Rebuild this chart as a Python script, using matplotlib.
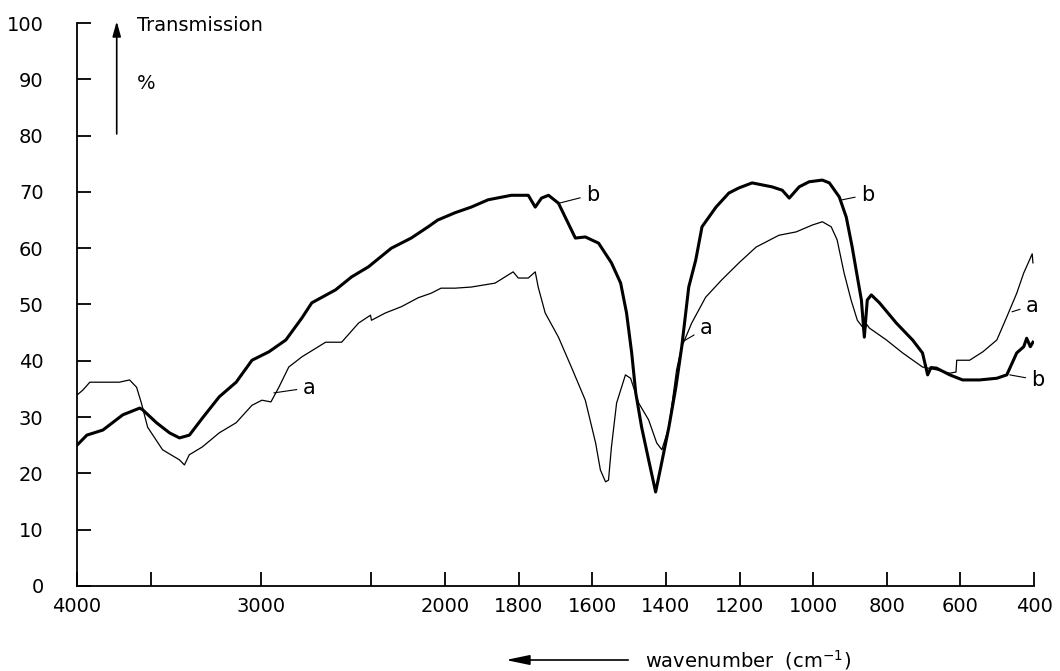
import numpy as np
import matplotlib
matplotlib.use('Agg')
import matplotlib.pyplot as plt

# spectrum a (thin line)
wn_a = [4000,3968,3930,3860,3770,3714,3676,3650,3616,3535,3443,3416,3390,3319,3227,3135,3049,2995,2946,2903,
        2849,2778,2649,2562,2470,2405,2400,2324,2238,2146,2076,2022,1973,1929,1864,1815,1801,1774,1755,1747,
        1728,1692,1657,1619,1591,1578,1564,1556,1548,1534,1510,1496,1474,1447,1425,1411,1392,1371,1357,1330,
        1292,1248,1200,1155,1093,1046,1003,975,951,935,916,897,880,866,861,855,847,801,757,703,665,629,612,610,
        575,539,501,474,447,428,415,409,405,403]
tr_a = [33.9,34.8,36.2,36.2,36.2,36.6,35.3,32.5,28.2,24.2,22.4,21.5,23.3,24.7,27.2,29.0,32.1,33.0,32.7,35.3,
        38.9,40.7,43.3,43.3,46.7,48.1,47.2,48.5,49.6,51.2,52.0,52.9,52.9,53.1,53.8,55.8,54.7,54.7,55.8,53.1,
        48.5,44.2,38.9,33.0,25.4,20.6,18.5,18.8,24.7,32.5,37.5,36.9,32.5,29.5,25.4,24.2,28.2,38.4,42.5,46.7,
        51.3,54.4,57.5,60.2,62.3,62.9,64.1,64.7,63.8,61.5,55.6,50.8,47.2,46.0,45.0,46.5,45.8,43.7,41.4,38.9,38.4,37.8,38.0,40.1,
        40.1,41.6,43.7,47.8,52.0,55.6,57.5,58.4,59.0,57.4]

# spectrum b (thick line)
wn_b = [4000,3946,3859,3751,3659,3643,3568,3497,3443,3389,3319,3227,3135,3049,2957,2865,2778,2724,2595,2508,
        2416,2292,2184,2092,2040,1973,1929,1883,1820,1774,1755,1738,1719,1692,1646,1619,1583,1548,1523,1507,
        1493,1482,1466,1447,1428,1414,1392,1373,1357,1338,1319,1302,1264,1229,1202,1166,1112,1084,1065,1038,
        1011,975,956,929,910,894,880,869,861,853,842,820,774,730,703,689,680,665,629,594,548,501,474,447,428,
        420,410,403]
tr_b = [25.0,26.8,27.7,30.4,31.6,31.3,29.0,27.2,26.3,26.8,29.8,33.6,36.2,40.1,41.6,43.7,47.6,50.3,52.6,54.9,
        56.7,60.0,61.8,63.8,65.0,66.3,67.3,68.6,69.4,69.4,67.3,68.9,69.4,68.0,61.8,62.0,60.9,57.4,53.8,48.5,
        41.4,34.3,28.2,22.4,16.7,21.1,28.2,35.3,42.5,53.1,57.9,63.8,67.3,69.8,70.7,71.6,70.9,70.3,68.9,70.9,
        71.8,72.1,71.6,69.1,65.5,60.2,54.9,50.8,44.2,50.8,51.7,50.3,46.7,43.7,41.4,37.5,38.8,38.7,37.5,36.6,36.6,36.9,37.5,41.4,42.5,
        44.0,42.5,43.3]

xticks = [4000,3600,3000,2400,2000,1800,1600,1400,1200,1000,800,600,400]
xlabels = ['4000','','3000','','2000','1800','1600','1400','1200','1000','800','600','400']
yticks = list(range(0,101,10))

# curve labels: (text, point on curve, text position)
labels = [('a',(2930,34.3),(2741,35.2)),('a',(1357,43.3),(1292,45.8)),('a',(460,48.7),(406,49.8)),
          ('b',(1690,68.0),(1600,69.5)),('b',(921,68.6),(853,69.5)),('b',(466,37.5),(390,36.6))]

# IR chart: scale halves above 2000 cm-1
fwd = lambda w: np.where(np.asarray(w)>=2000, 2000+(np.asarray(w)-2000)/2, w)
inv = lambda u: np.where(np.asarray(u)>=2000, 2000+(np.asarray(u)-2000)*2, u)

plt.rcParams['font.family'] = 'DejaVu Sans'
fig = plt.figure(figsize=(10.6,6.71), dpi=100)
ax = fig.add_axes([0.0726,0.1267,0.9029,0.839])
ax.set_xscale('function', functions=(fwd,inv))
ax.plot(wn_a, tr_a, color='black', lw=0.9)
ax.plot(wn_b, tr_b, color='black', lw=2.2)
ax.set_xlim(4000,400)
ax.set_ylim(0,100)

ax.set_xticks(xticks)
ax.set_xticklabels(xlabels)
ax.set_yticks(yticks)
ax.tick_params(axis='both', direction='in', length=10, width=1.3, labelsize=14)
ax.tick_params(axis='x', pad=8)
ax.tick_params(axis='y', pad=24)
ax.xaxis.set_minor_locator(matplotlib.ticker.NullLocator())
for s in ['top','right']:
    ax.spines[s].set_visible(False)
for s in ['left','bottom']:
    ax.spines[s].set_linewidth(1.3)

for t,xy,xyt in labels:
    ax.annotate(t, xy=xy, xytext=xyt, fontsize=15, ha='center', va='center', annotation_clip=False,
                arrowprops=dict(arrowstyle='-', lw=0.8, color='black', shrinkA=2, shrinkB=0))

# y axis caption with arrow
ax.annotate('', xy=(3784,100.8), xytext=(3784,79.8), annotation_clip=False,
            arrowprops=dict(arrowstyle='-|>,head_length=0.9,head_width=0.25', lw=1.2, color='black'))
ax.text(3676, 99.6, 'Transmission', fontsize=14, ha='left', va='center')
ax.text(3676, 89.3, '%', fontsize=14, ha='left', va='center')

# x axis caption with arrow
fig.add_artist(matplotlib.patches.FancyArrowPatch((631/1060,1-660/671),(503/1060,1-660/671),
               transform=fig.transFigure, arrowstyle='-|>,head_length=1.2,head_width=0.25',
               lw=1.2, color='black', mutation_scale=12))
fig.text(645/1060, 1-660/671, 'wavenumber  (cm$^{-1}$)', fontsize=14, ha='left', va='center')

fig.savefig('out.png', dpi=100)
